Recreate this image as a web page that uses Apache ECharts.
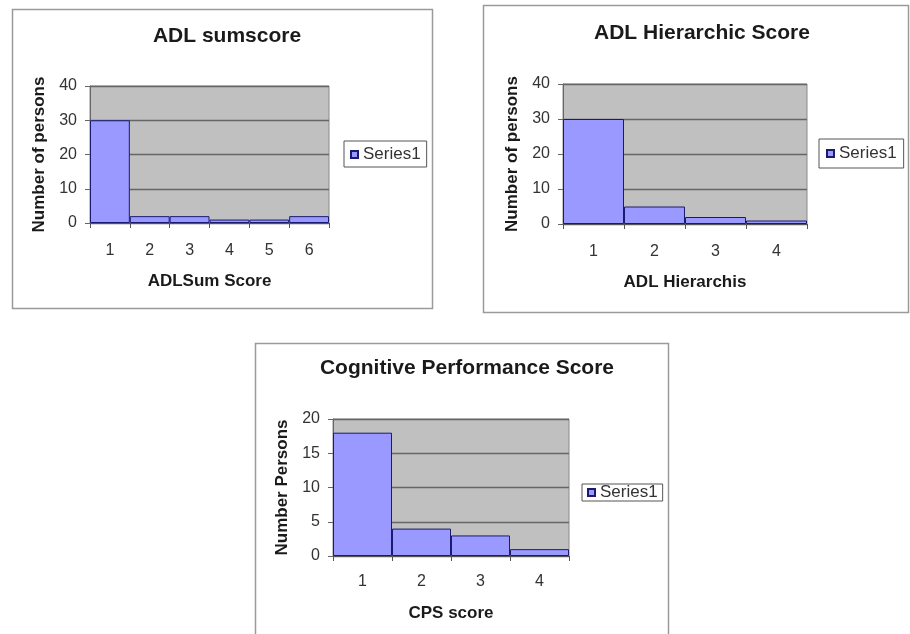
<!DOCTYPE html>
<html><head><meta charset="utf-8">
<script src="https://cdn.jsdelivr.net/npm/echarts@6/dist/echarts.min.js"></script>
<style>html,body{margin:0;padding:0;background:#fff;}#c{width:910px;height:634px;}</style>
</head><body><div id="c"></div>
<script>
// ---- data ----
const titles = ['ADL sumscore', 'ADL Hierarchic Score', 'Cognitive Performance Score'];
const xNames = ['ADLSum Score', 'ADL Hierarchis', 'CPS score'];
const yNames = ['Number of persons', 'Number of persons', 'Number Persons'];
const seriesName = 'Series1';
const cats1 = ['1', '2', '3', '4', '5', '6'];
const vals1 = [30, 2, 2, 1, 1, 2];
const cats2 = ['1', '2', '3', '4'];
const vals2 = [30, 5, 2, 1];
const cats3 = ['1', '2', '3', '4'];
const vals3 = [18, 4, 3, 1];
const yMax = [40, 40, 20];
const yStep = [10, 10, 5];

const cats = [cats1, cats2, cats3];
const vals = [vals1, vals2, vals3];

// ---- layout ----
const grids = [
  {left: 90, top: 86, width: 239, height: 137},
  {left: 563, top: 84, width: 244, height: 140},
  {left: 333, top: 419, width: 236, height: 137}
];
const panels = [
  {x: 12.5, y: 9.5, w: 420, h: 299},
  {x: 483.5, y: 5.5, w: 425, h: 307},
  {x: 255.5, y: 343.5, w: 413, h: 310}
];
const titlePos = [{x: 222, y: 21}, {x: 697, y: 18}, {x: 462, y: 353}];
const legendPos = [{x: 344, y: 141}, {x: 819, y: 139}, {x: 582, y: 484}];
const legendPad = [[5, 6, 4, 6], [6, 7, 6, 7], [0, 5, 0, 5]];
const labelMargin = [20, 20, 18];
const xNameGap = [50, 50, 49];

const font = "'Liberation Sans', Arial, sans-serif";
const txt = '#1a1a1a';

const option = {
  animation: false,
  backgroundColor: '#fff',
  graphic: panels.map(p => ({
    type: 'rect', shape: {x: p.x, y: p.y, width: p.w, height: p.h},
    style: {fill: 'none', stroke: '#9a9a9a', lineWidth: 1.5}, z: -1
  })),
  title: titles.map((t, i) => ({
    text: t, left: titlePos[i].x, top: titlePos[i].y, textAlign: 'center',
    textStyle: {fontFamily: font, fontSize: 21, fontWeight: 'bold', color: txt}
  })),
  legend: [0, 1, 2].map(i => ({
    data: [seriesName], left: legendPos[i].x, top: legendPos[i].y, orient: 'vertical',
    icon: 'rect', itemWidth: 7, itemHeight: 7, itemGap: 0,
    padding: legendPad[i], borderColor: '#555', borderWidth: 1, backgroundColor: '#fff',
    textStyle: {fontFamily: font, fontSize: 17, color: '#333'},
    selectedMode: false
  })),
  grid: grids.map(g => Object.assign({show: true, backgroundColor: '#c0c0c0', borderColor: '#8a8a8a', borderWidth: 1, containLabel: false}, g)),
  xAxis: [0, 1, 2].map(i => ({
    type: 'category', gridIndex: i, data: cats[i],
    name: xNames[i], nameLocation: 'middle', nameGap: xNameGap[i],
    nameTextStyle: {fontFamily: font, fontSize: 17, fontWeight: 'bold', color: txt},
    axisLine: {lineStyle: {color: '#555', width: 1}},
    axisTick: {show: true, length: 5, lineStyle: {color: '#555'}},
    axisLabel: {fontFamily: font, fontSize: 16, color: '#333', margin: labelMargin[i]},
    splitLine: {show: false}
  })),
  yAxis: [0, 1, 2].map(i => ({
    type: 'value', gridIndex: i, min: 0, max: yMax[i], interval: yStep[i],
    name: yNames[i], nameLocation: 'middle', nameGap: 42,
    nameTextStyle: {fontFamily: font, fontSize: 17, fontWeight: 'bold', color: txt},
    axisLine: {show: true, lineStyle: {color: '#666', width: 1}},
    axisTick: {show: true, length: 5, lineStyle: {color: '#666'}},
    axisLabel: {fontFamily: font, fontSize: 16, color: '#333', margin: 13},
    splitLine: {show: true, lineStyle: {color: '#666', width: 1.3}}
  })),
  series: [0, 1, 2].map(i => ({
    type: 'bar', name: seriesName, xAxisIndex: i, yAxisIndex: i, data: vals[i],
    barWidth: '100%',
    itemStyle: {color: '#9999ff', borderColor: '#1a1a70', borderWidth: 1}
  }))
};
const chart = echarts.init(document.getElementById('c'), null, {renderer: 'canvas'});
chart.setOption(option);
</script></body></html>
